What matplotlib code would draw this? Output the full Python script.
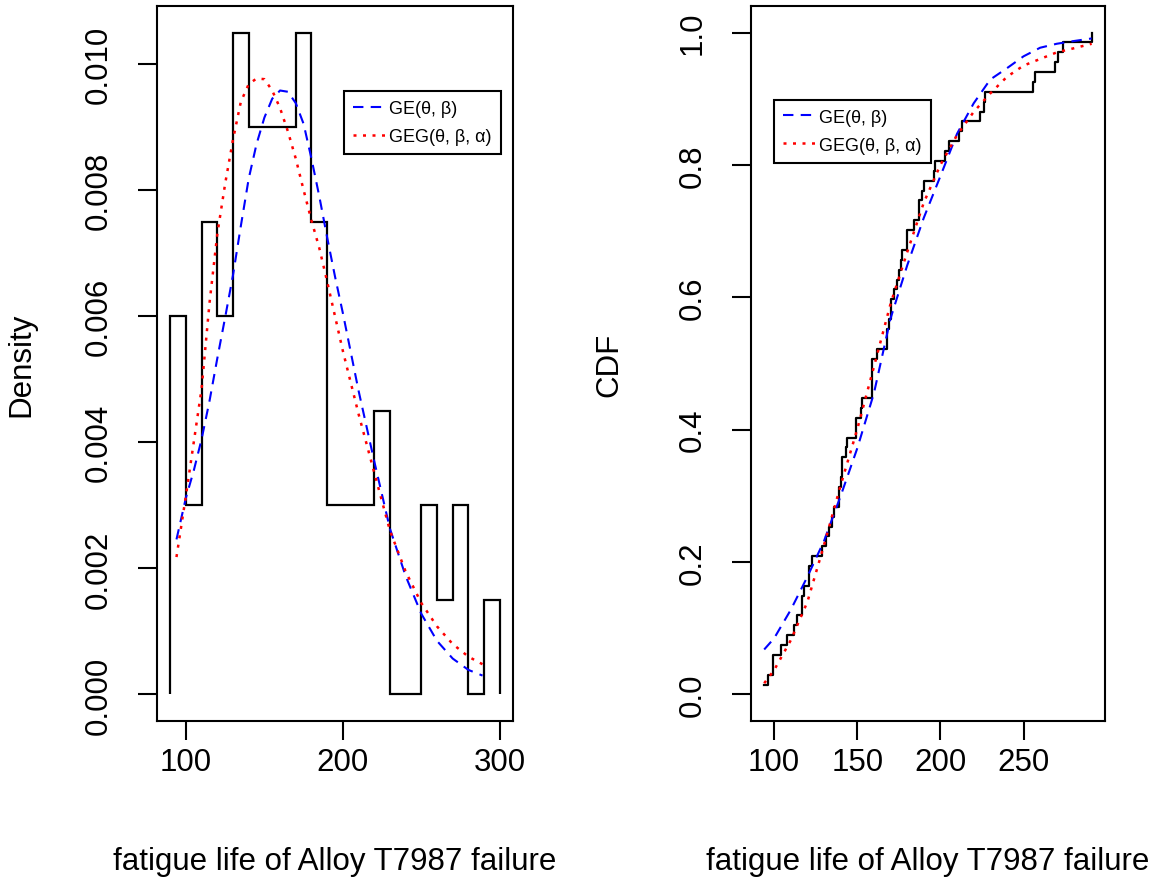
import numpy as np
import matplotlib
matplotlib.use("Agg")
import matplotlib.pyplot as plt

plt.rcParams['font.family'] = ['Liberation Sans', 'DejaVu Sans']

# histogram (density, bin width 10)
bin_edges = [90, 100, 110, 120, 130, 140, 150, 160, 170, 180, 190, 200,
             210, 220, 230, 240, 250, 260, 270, 280, 290, 300]
densities = [0.006, 0.003, 0.0075, 0.006, 0.0105, 0.009, 0.009, 0.009,
             0.0105, 0.0075, 0.003, 0.003, 0.003, 0.0045, 0.0, 0.0,
             0.003, 0.0015, 0.003, 0.0, 0.0015]

# fitted density curves
pdf_x = [94, 100, 105, 110, 115, 120, 125, 130, 135, 140, 145, 150, 155,
         160, 165, 170, 175, 180, 185, 190, 195, 200, 210, 220, 230, 240,
         250, 260, 270, 280, 289]
ge_pdf = [0.00246, 0.00312, 0.00355, 0.00405, 0.00465, 0.00533, 0.00598,
          0.00665, 0.00743, 0.00818, 0.00873, 0.00915, 0.00945, 0.00958,
          0.00956, 0.00938, 0.00905, 0.00850, 0.00790, 0.00725, 0.00663,
          0.00605, 0.00482, 0.00370, 0.00263, 0.00188, 0.00128, 0.00085,
          0.00057, 0.00039, 0.00030]
geg_pdf = [0.00218, 0.00315, 0.00400, 0.00485, 0.00620, 0.00730, 0.00810,
           0.00880, 0.00940, 0.00968, 0.00977, 0.00976, 0.00958, 0.00930,
           0.00893, 0.00850, 0.00800, 0.00752, 0.00708, 0.00655, 0.00600,
           0.00545, 0.00445, 0.00352, 0.00260, 0.00195, 0.00145, 0.00108,
           0.00080, 0.00060, 0.00048]

# fatigue life sample (sorted), for the empirical CDF
fatigue = [94, 96, 99, 99, 104, 108, 112, 114, 117, 117, 118, 121, 121,
           123, 129, 131, 133, 135, 136, 139, 139, 140, 141, 141, 143, 144,
           149, 149, 152, 153, 159, 159, 159, 159, 162, 168, 168, 169, 170,
           170, 172, 174, 175, 176, 177, 180, 180, 184, 187, 187, 189, 190,
           196, 197, 203, 205, 211, 213, 224, 226, 227, 256, 257, 269, 271,
           274, 291]

# fitted CDF curves
cdf_x = [94, 100, 110, 120, 130, 140, 150, 160, 170, 180, 190, 200, 210,
         220, 230, 240, 250, 260, 270, 280, 291]
ge_cdf = [0.068, 0.085, 0.128, 0.178, 0.232, 0.300, 0.372, 0.455, 0.568,
          0.648, 0.720, 0.783, 0.847, 0.893, 0.929, 0.946, 0.964, 0.977,
          0.983, 0.987, 0.991]
geg_cdf = [0.017, 0.037, 0.082, 0.140, 0.226, 0.316, 0.401, 0.495, 0.590,
           0.668, 0.743, 0.800, 0.845, 0.880, 0.908, 0.933, 0.950, 0.960,
           0.970, 0.976, 0.983]

fs = 22.5
fig = plt.figure(figsize=(11.52, 8.78), dpi=100)
ax1 = fig.add_axes([0.1363, 0.1777, 0.309, 0.8143])
ax2 = fig.add_axes([0.652, 0.1777, 0.307, 0.8143])


def add_legend(ax, anchor):
    leg = ax.legend(loc='upper left', bbox_to_anchor=anchor,
                    borderaxespad=0, fontsize=13, fancybox=False,
                    edgecolor='black', framealpha=1, handlelength=1.9,
                    handletextpad=0.1, borderpad=0.5, labelspacing=0.6)
    leg.get_frame().set_linewidth(1.5)
    return leg


# left: histogram + densities
ax1.stairs(densities, bin_edges, color='black', linewidth=1.6, baseline=0)
ax1.plot(pdf_x, ge_pdf, color='blue', linestyle=(0, (5, 3.5)), linewidth=1.5,
         label='GE(θ, β)')
ax1.plot(pdf_x, geg_pdf, color='red', linestyle=(0, (1.2, 2.6)), linewidth=1.8,
         label='GEG(θ, β, α)')
lo, hi = bin_edges[0], bin_edges[-1]
ax1.set_xlim(lo - 0.04 * (hi - lo), hi + 0.04 * (hi - lo))
ymax = max(densities)
ax1.set_ylim(-0.04 * ymax, 1.04 * ymax)
ax1.set_xticks([100, 200, 300])
ax1.set_yticks([0.000, 0.002, 0.004, 0.006, 0.008, 0.010])
ax1.set_yticklabels(['0.000', '0.002', '0.004', '0.006', '0.008', '0.010'])
ax1.set_xlabel('fatigue life of Alloy T7987 failure', fontsize=fs, labelpad=50)
ax1.set_ylabel('Density', fontsize=fs, labelpad=34)
add_legend(ax1, (0.525, 0.881))

# right: empirical CDF + fitted CDFs
n = len(fatigue)
ecdf = np.arange(1, n + 1) / n
ax2.step(fatigue, ecdf, where='post', color='black', linewidth=1.6)
ax2.plot(cdf_x, ge_cdf, color='blue', linestyle=(0, (5, 3.5)), linewidth=1.5,
         label='GE(θ, β)')
ax2.plot(cdf_x, geg_cdf, color='red', linestyle=(0, (1.2, 2.6)), linewidth=1.8,
         label='GEG(θ, β, α)')
lo2, hi2 = min(cdf_x), max(cdf_x)
ax2.set_xlim(lo2 - 0.04 * (hi2 - lo2), hi2 + 0.04 * (hi2 - lo2))
ax2.set_ylim(-0.04, 1.04)
ax2.set_xticks([100, 150, 200, 250])
ax2.set_yticks([0.0, 0.2, 0.4, 0.6, 0.8, 1.0])
ax2.set_yticklabels(['0.0', '0.2', '0.4', '0.6', '0.8', '1.0'])
ax2.set_xlabel('fatigue life of Alloy T7987 failure', fontsize=fs, labelpad=50)
ax2.set_ylabel('CDF', fontsize=fs, labelpad=38)
add_legend(ax2, (0.065, 0.869))

for ax in (ax1, ax2):
    for s in ax.spines.values():
        s.set_linewidth(1.5)
    ax.tick_params(axis='both', direction='out', length=13.5, width=1.5,
                   labelsize=fs)
    ax.tick_params(axis='x', pad=5)
    ax.tick_params(axis='y', pad=18)
    for lab in ax.get_yticklabels():
        lab.set_rotation(90)
        lab.set_va('center')

fig.savefig('out.png', dpi=100)
